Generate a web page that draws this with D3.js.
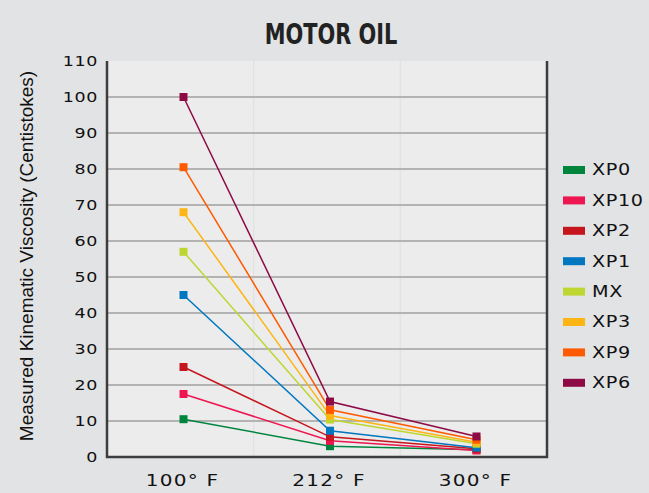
<!DOCTYPE html>
<html>
<head>
<meta charset="utf-8">
<script src="https://cdn.jsdelivr.net/npm/d3@7"></script>
<style>
  body { margin: 0; background: #e2e3e5; }
  svg { display: block; }
</style>
</head>
<body>
<svg id="chart" width="649" height="493"></svg>
<script>
// Data
const temps = ["100° F", "212° F", "300° F"];
const seriesNames = ["XP0", "XP10", "XP2", "XP1", "MX", "XP3", "XP9", "XP6"];
const seriesColors = ["#00853f", "#ed1651", "#c4161c", "#0077c0", "#bed630", "#fdb515", "#ff5a00", "#8e0a45"];
const xp0 = [10.5, 3.0, 2.0];
const xp10 = [17.5, 4.5, 1.8];
const xp2 = [25, 5.6, 2.3];
const xp1 = [45, 7.3, 2.6];
const mx = [57, 10.4, 3.7];
const xp3 = [68, 11.5, 4.1];
const xp9 = [80.5, 13.1, 4.8];
const xp6 = [100, 15.4, 5.7];
const yTicks = [0, 10, 20, 30, 40, 50, 60, 70, 80, 90, 100, 110];

const allValues = [xp0, xp10, xp2, xp1, mx, xp3, xp9, xp6];
const series = seriesNames.map((name, i) => ({ name: name, color: seriesColors[i], values: allValues[i] }));

const svg = d3.select("#chart");
const plot = { left: 107, right: 547, top: 61, bottom: 457 };
const wideFont = "DejaVu Sans";  // stretched below to mimic the extended face

const x = d3.scalePoint()
    .domain(temps)
    .range([183.5, 476.5]);

const y = d3.scaleLinear()
    .domain([0, 110])
    .range([plot.bottom, plot.top]);

// plot background
svg.append("rect")
    .attr("x", plot.left)
    .attr("y", plot.top)
    .attr("width", plot.right - plot.left)
    .attr("height", plot.bottom - plot.top)
    .attr("fill", "#ececec");

// faint vertical separators between categories
const step = x.step();
svg.selectAll(".vsep")
    .data(temps.slice(1))
    .enter().append("line")
    .attr("x1", d => x(d) - step / 2 - 3)
    .attr("x2", d => x(d) - step / 2 - 3)
    .attr("y1", plot.top)
    .attr("y2", plot.bottom)
    .attr("stroke", "#dedede")
    .attr("stroke-width", 1);

// horizontal grid
svg.selectAll(".grid")
    .data(yTicks.filter(t => t > 0 && t < 110))
    .enter().append("line")
    .attr("x1", plot.left)
    .attr("x2", plot.right)
    .attr("y1", d => y(d))
    .attr("y2", d => y(d))
    .attr("stroke", "#b3b3b3")
    .attr("stroke-width", 2);

// axis frame: left, bottom, right
svg.append("path")
    .attr("d", `M${plot.left},${plot.top}V${plot.bottom}H${plot.right}V${plot.top}`)
    .attr("fill", "none")
    .attr("stroke", "#3d3d3d")
    .attr("stroke-width", 2.5);

// y tick labels
svg.selectAll(".ytick")
    .data(yTicks)
    .enter().append("text")
    .attr("transform", d => `translate(98,${y(d)}) scale(1.25,1)`)
    .attr("dy", "0.36em")
    .attr("text-anchor", "end")
    .attr("font-family", wideFont)
    .attr("font-size", 14)
    .attr("letter-spacing", 0.5)
    .attr("fill", "#111")
    .text(d => d);

// x tick labels
svg.selectAll(".xtick")
    .data(temps)
    .enter().append("text")
    .attr("transform", d => `translate(${x(d) - 1},486) scale(1.25,1)`)
    .attr("text-anchor", "middle")
    .attr("font-family", wideFont)
    .attr("font-size", 16)
    .attr("letter-spacing", 1)
    .attr("fill", "#111")
    .text(d => d);

// y axis title
svg.append("text")
    .attr("transform", `translate(33,256) rotate(-90)`)
    .attr("text-anchor", "middle")
    .attr("font-family", "Liberation Sans, Arial, sans-serif")
    .attr("font-size", 19)
    .attr("fill", "#111")
    .text("Measured Kinematic Viscosity (Centistokes)");

// chart title
svg.append("text")
    .attr("transform", "translate(331,44) scale(0.8,1)")
    .attr("text-anchor", "middle")
    .attr("font-family", "DejaVu Sans Condensed, sans-serif")
    .attr("font-weight", "bold")
    .attr("font-size", 29)
    .attr("fill", "#222")
    .text("MOTOR OIL");

// lines and markers
const line = d3.line()
    .x((d, i) => x(temps[i]))
    .y(d => y(d));

const groups = svg.selectAll(".series")
    .data(series)
    .enter().append("g")
    .attr("class", "series");

groups.append("path")
    .attr("d", d => line(d.values))
    .attr("fill", "none")
    .attr("stroke", d => d.color)
    .attr("stroke-width", 1.5);

const ms = 8;
groups.selectAll("rect")
    .data(d => d.values.map((v, i) => ({ v: v, t: temps[i], color: d.color })))
    .enter().append("rect")
    .attr("x", d => x(d.t) - ms / 2)
    .attr("y", d => y(d.v) - ms / 2)
    .attr("width", ms)
    .attr("height", ms)
    .attr("fill", d => d.color);

// legend
const legend = svg.selectAll(".legend")
    .data(series)
    .enter().append("g")
    .attr("transform", (d, i) => `translate(563,${170 + i * 30.4})`);

legend.append("rect")
    .attr("x", 0)
    .attr("y", -4)
    .attr("width", 22)
    .attr("height", 8)
    .attr("fill", d => d.color);

legend.append("text")
    .attr("transform", "translate(29,0) scale(1.28,1)")
    .attr("dy", "0.36em")
    .attr("font-family", wideFont)
    .attr("font-size", 15)
    .attr("letter-spacing", 0.5)
    .attr("fill", "#111")
    .text(d => d.name);
</script>
</body>
</html>
